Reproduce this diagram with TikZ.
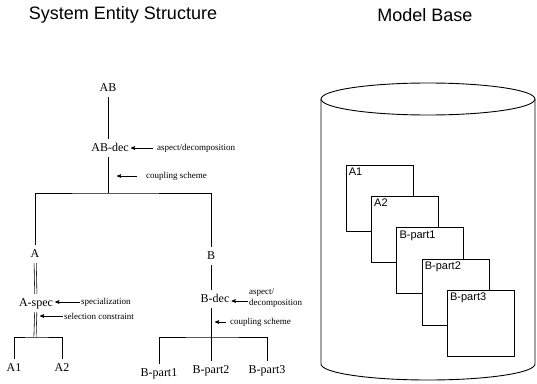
\documentclass[tikz,border=0pt]{standalone}
\usepackage{fontspec}
\setmainfont{Liberation Serif}
\newfontfamily\headfont{Liberation Sans}
\usetikzlibrary{positioning,arrows}
\tikzset{>=stealth',
ent/.style={font=\fontsize{12}{14}\selectfont, inner xsep=2pt, inner ysep=4pt,
	text height=8pt, text depth=2pt},
el/.style={font=\fontsize{9}{11.5}\selectfont, inner sep=1pt},
ttl/.style={font=\headfont\fontsize{18}{20}\selectfont},
link/.style={-, line width=0.8pt},
spec/.style={-, double, double distance=1.6pt, line width=0.6pt},
ann/.style={->, line width=0.6pt},
card/.style={draw, fill=white, line width=0.6pt, minimum width=67pt,
	minimum height=66pt, inner sep=0pt},
cardtext/.style={anchor=north west, inner sep=3pt,
	font=\headfont\fontsize{11}{12}\selectfont},
}

\begin{document}
\begin{tikzpicture}[x=1pt,y=-1pt]
	\useasboundingbox (0,0) rectangle (537,383);

	% titles
	\node[ttl] (sesttl) at (123,15) {System Entity Structure};
	\node[ttl] (mbttl) at (425,15) {Model Base};

	% entity tree
	\node[ent] (AB) at (108,88) {AB};
	\node[ent] (ABdec) at (110,148) {AB-dec};
	\node[ent] (A) at (35,254) {A};
	\node[ent] (Aspec) at (36,303) {A-spec};
	\node[ent] (B) at (211,256) {B};
	\node[ent] (Bdec) at (215,299) {B-dec};
	\node[ent] (A1) at (14,368) {A1};
	\node[ent] (A2) at (62,368) {A2};
	\node[ent] (Bpart1) at (159,373) {B-part1};
	\node[ent] (Bpart2) at (211,370) {B-part2};
	\node[ent] (Bpart3) at (267,370) {B-part3};

	\coordinate (ABjoin) at (108,193);
	\coordinate (Ajoin) at (35,337);
	\coordinate (Bjoin) at (211,337);

	\draw[link] (AB) -- (AB |- ABdec.north);
	\draw[link] (AB |- ABdec.south) -- (ABjoin);
	\draw[link] (A.north) |- (ABjoin) -| (B.north);
	\draw[spec] (A) -- (Aspec);
	\draw[spec] (Aspec) -- (Ajoin);
	\draw[link] (A1.north) |- (Ajoin) -| (A2.north);
	\draw[link] (B) -- (B |- Bdec.north);
	\draw[link] (Bdec.south -| Bpart2) -- (Bpart2);
	\draw[link] (Bpart1.north) |- (Bjoin) -| (Bpart3.north);

	% annotations
	\node[el,anchor=west] (aspAB) at (156,148) {aspect/decomposition};
	\node[el,anchor=west] (cplAB) at (145,176) {coupling scheme};
	\node[el,anchor=west] (spcA) at (80,302) {specialization};
	\node[el,anchor=west] (selA) at (63,316) {selection constraint};
	\node[el,anchor=west,align=left] (aspB) at (248,298) {aspect/\\decomposition};
	\node[el,anchor=west] (cplB) at (229,322) {coupling scheme};

	\coordinate (tipAB) at (117,176);
	\coordinate (tipA) at (40,316);
	\coordinate (tipB) at (215,322);

	\draw[ann] ([xshift=-3pt]aspAB.west) -- (aspAB.west -| ABdec.east);
	\draw[ann] ([xshift=-8pt]cplAB.west) -- (tipAB);
	\draw[ann] (spcA.west) -- (spcA.west -| Aspec.east);
	\draw[ann] (selA.west) -- (tipA);
	\draw[ann] ([yshift=-3pt]aspB.west) -- ([yshift=-3pt]aspB.west -| Bdec.east);
	\draw[ann] ([xshift=-3pt]cplB.west) -- (tipB);

	% model base
	\draw[line width=0.9pt] (321,99) -- (321,364)
		arc[start angle=180, end angle=360, x radius=107pt, y radius=16pt] -- (535,99);
	\draw[line width=0.9pt] (428,99) ellipse [x radius=107pt, y radius=16pt];

	\node[card, label={[cardtext]north west:A1}] (cA1) at (379.5,198) {};
	\node[card, on grid, below right=31.3pt and 25.3pt of cA1,
		label={[cardtext]north west:A2}] (cA2) {};
	\node[card, on grid, below right=31.3pt and 25.3pt of cA2,
		label={[cardtext]north west:B-part1}] (cB1) {};
	\node[card, on grid, below right=31.3pt and 25.3pt of cB1,
		label={[cardtext]north west:B-part2}] (cB2) {};
	\node[card, on grid, below right=31.3pt and 25.3pt of cB2,
		label={[cardtext]north west:B-part3}] (cB3) {};
\end{tikzpicture}
\end{document}
